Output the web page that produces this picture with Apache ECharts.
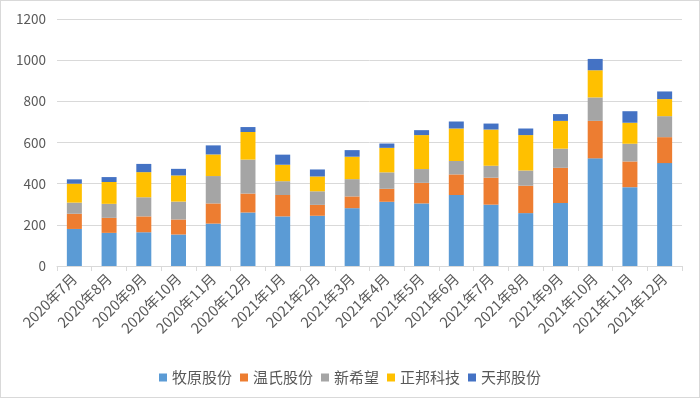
<!DOCTYPE html>
<html>
<head>
<meta charset="utf-8">
<script src="https://cdn.jsdelivr.net/npm/echarts@6/dist/echarts.min.js"></script>
<style>
    html, body { margin: 0; padding: 0; background: #fff; }
    #container { width: 698px; height: 396px; border: 1px solid #d9d9d9; }
</style>
</head>
<body>
<div id="container"></div>
<script>
// 月份
var months = ['2020年7月', '2020年8月', '2020年9月', '2020年10月', '2020年11月', '2020年12月',
    '2021年1月', '2021年2月', '2021年3月', '2021年4月', '2021年5月', '2021年6月',
    '2021年7月', '2021年8月', '2021年9月', '2021年10月', '2021年11月', '2021年12月'];
var names = ['牧原股份', '温氏股份', '新希望', '正邦科技', '天邦股份'];
// 各公司数值（从堆叠高度读出）
var muyuan    = [180, 161, 164, 153, 206, 260, 241, 244, 281, 312, 304, 345, 298, 257, 306, 523, 383, 500];
var wenshi    = [74, 73, 77, 73, 98, 92, 104, 53, 57, 63, 100, 100, 131, 133, 171, 182, 125, 126];
var xinxiwang = [54, 68, 93, 87, 133, 165, 67, 66, 84, 80, 67, 65, 58, 74, 93, 114, 86, 102];
var zhengbang = [92, 106, 122, 127, 105, 134, 80, 72, 109, 119, 165, 158, 176, 172, 135, 132, 102, 83];
var tianbang  = [21, 24, 40, 32, 44, 24, 49, 34, 32, 21, 24, 34, 29, 32, 33, 55, 56, 37];
var yTicks = { min: 0, max: 1200, interval: 200 };

var colors = ['#5B9BD5', '#ED7D31', '#A5A5A5', '#FFC000', '#4472C4'];
var dataArr = [muyuan, wenshi, xinxiwang, zhengbang, tianbang];

var series = [];
for (let i = 0; i < names.length; i++) {
    series.push({
        name: names[i],
        type: 'bar',
        stack: '总量',
        barWidth: 15,
        itemStyle: { color: colors[i] },
        data: dataArr[i]
    });
}

var myChart = echarts.init(document.getElementById('container'));
var options = {
    animation: false,
    textStyle: { fontFamily: '"Noto Sans CJK SC", "Noto Sans", sans-serif' },
    grid: { left: 56, right: 17, top: 18, bottom: 131 },
    legend: {
        top: 364,
        left: 'center',
        itemWidth: 8,
        itemHeight: 8,
        itemGap: 8,
        icon: 'rect',
        textStyle: { color: '#595959', fontSize: 15, padding: [0, 0, 0, 0] },
        data: names
    },
    xAxis: {
        type: 'category',
        data: months,
        axisLine: { lineStyle: { color: '#d9d9d9' } },
        axisTick: { show: true, length: 5, lineStyle: { color: '#d9d9d9' } },
        axisLabel: { color: '#595959', fontSize: 14.5, rotate: 45, interval: 0, margin: 10 }
    },
    yAxis: {
        type: 'value',
        min: yTicks.min,
        max: yTicks.max,
        interval: yTicks.interval,
        axisLine: { show: false },
        axisTick: { show: false },
        axisLabel: { color: '#595959', fontSize: 13.5, margin: 11, formatter: function (v) { return String(v); } },
        splitLine: { lineStyle: { color: '#d9d9d9' } }
    },
    series: series
};
myChart.setOption(options, true);
</script>
</body>
</html>
